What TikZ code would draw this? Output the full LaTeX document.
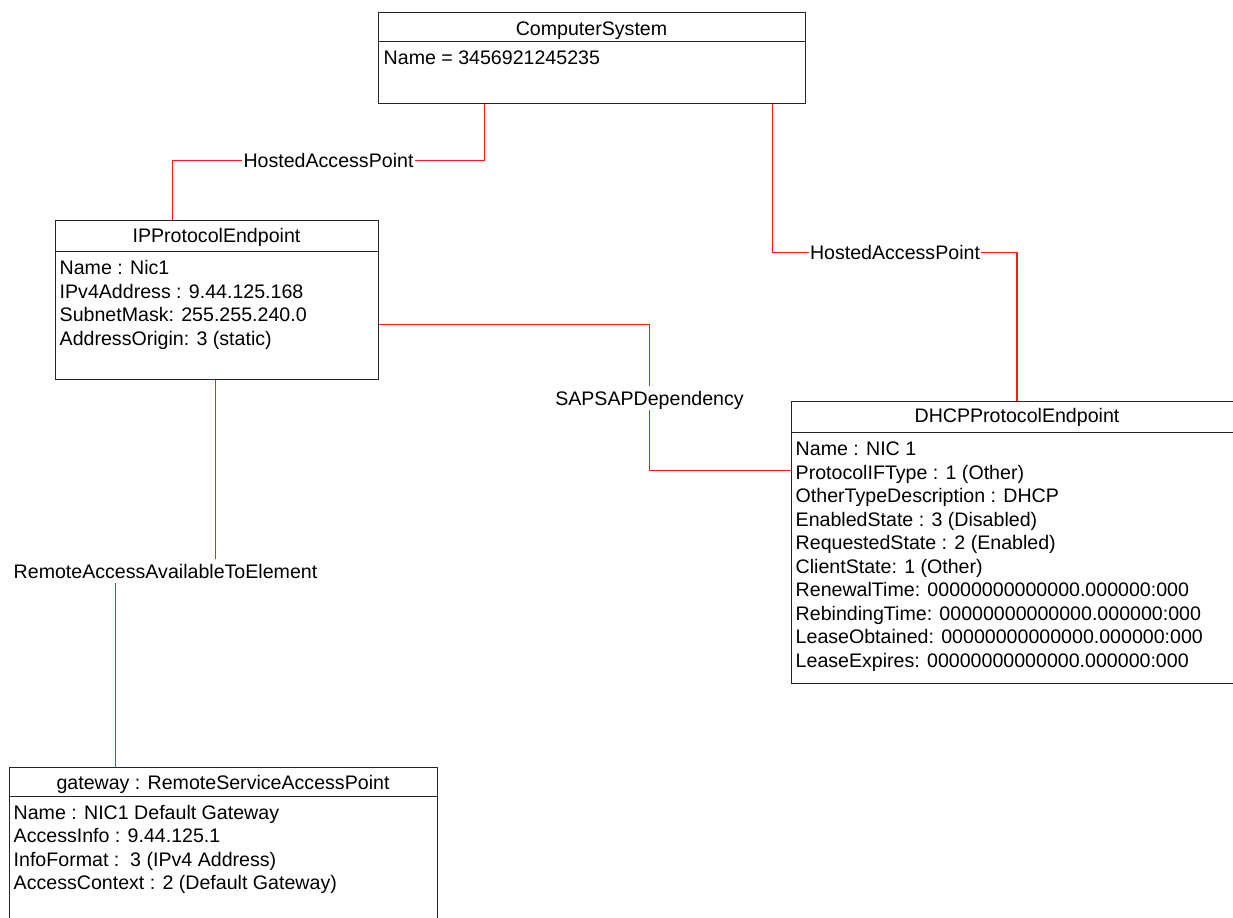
\documentclass[tikz,border=0pt]{standalone}
\usepackage{fontspec}
\setmainfont{Liberation Sans}
\usetikzlibrary{calc}
\begin{document}
\begin{tikzpicture}[x=1bp,y=-1bp,
  every node/.style={font=\fontsize{19.6bp}{23.5bp}\selectfont},
  classbox/.style={draw=black!85, line width=1bp, anchor=north west, inner sep=0pt},
  divider/.style={draw=black!85, line width=1bp},
  classtitle/.style={anchor=base, inner sep=0pt},
  % multi-line attribute lists are placed by the baseline of their last line
  attrs/.style={anchor=base west, inner sep=0pt, align=left},
  assoc/.style={draw=red!90!white, line width=1.3bp},
  rolelabel/.style={inner xsep=1bp, inner ysep=5bp, text depth=0pt}
  ]
\useasboundingbox (0,0) rectangle (1233,918);

% ---- class instances ----
\node[classbox, minimum width=427bp, minimum height=91bp] (cs) at (377.5,11.5) {};
\draw[divider] ($(cs.north west)+(0,30)$) -- ($(cs.north east)+(0,30)$);
\node[classtitle] (cstitle) at ($(cs.north)+(0,24)$) {ComputerSystem};
\node[attrs] (csattr) at ($(cs.north west)+(6,53)$) {Name = 3456921245235};

\node[classbox, minimum width=323bp, minimum height=159bp] (ip) at (54.5,219.5) {};
\draw[divider] ($(ip.north west)+(0,32)$) -- ($(ip.north east)+(0,32)$);
\node[classtitle] (iptitle) at ($(ip.north)+(0,23)$) {IPProtocolEndpoint};
\node[attrs] (ipattr) at ($(ip.north west)+(5,125.5)$) {Name : Nic1\\
IPv4Address : 9.44.125.168\\
SubnetMask: 255.255.240.0\\
AddressOrigin: 3 (static)};

\node[classbox, minimum width=452bp, minimum height=282bp] (dhcp) at (790.5,400.5) {};
\draw[divider] ($(dhcp.north west)+(0,32)$) -- ($(dhcp.north east)+(0,32)$);
\node[classtitle] (dhcptitle) at ($(dhcp.north)+(0,22)$) {DHCPProtocolEndpoint};
\node[attrs] (dhcpattr) at ($(dhcp.north west)+(5,266.5)$) {Name : NIC 1\\
ProtocolIFType : 1 (Other)\\
OtherTypeDescription : DHCP\\
EnabledState : 3 (Disabled)\\
RequestedState : 2 (Enabled)\\
ClientState: 1 (Other)\\
RenewalTime: 00000000000000.000000:000\\
RebindingTime: 00000000000000.000000:000\\
LeaseObtained: 00000000000000.000000:000\\
LeaseExpires: 00000000000000.000000:000};

\node[classbox, minimum width=428bp, minimum height=180bp] (gw) at (8.5,766.5) {};
\draw[divider] ($(gw.north west)+(0,30)$) -- ($(gw.north east)+(0,30)$);
\node[classtitle] (gwtitle) at ($(gw.north)+(0,23)$) {gateway : RemoteServiceAccessPoint};
\node[attrs] (gwattr) at ($(gw.north west)+(5,123)$) {Name : NIC1 Default Gateway\\
AccessInfo : 9.44.125.1\\
InfoFormat :\ \ 3 (IPv4 Address)\\
AccessContext : 2 (Default Gateway)};

% ---- association labels ----
\node[rolelabel] (hap1) at (328.5,160.5) {HostedAccessPoint};
\node[rolelabel] (hap2) at (895,252.5) {HostedAccessPoint};
\node[rolelabel] (dep) at (649.5,398) {SAPSAPDependency};
\node[rolelabel] (rae) at (165.5,571) {RemoteAccessAvailableToElement};

% ---- connector end points on the boxes ----
\coordinate (csl) at ($(cs.south west)+(107,0)$);
\coordinate (csr) at ($(cs.south west)+(395,0)$);
\coordinate (ipt) at ($(ip.north west)+(118,0)$);
\coordinate (ipr) at ($(ip.north east)+(0,105)$);
\coordinate (ipb) at ($(ip.south west)+(161,0)$);
\coordinate (dhcpl) at ($(dhcp.north west)+(0,70)$);
\coordinate (gwt) at ($(gw.north west)+(107,0)$);

% ---- associations ----
\draw[assoc] (csl) |- (hap1.east);
\draw[assoc] (hap1.west) -| (ipt);
\draw[assoc] (csr) |- (hap2.west);
\draw[assoc] (hap2.east) -| (dhcp.north);
\draw[assoc] (ipr) -| (dep.north);
\draw[assoc] (dep.south) |- (dhcpl);
\draw[assoc] (ipb) -- (ipb |- rae.north);
\draw[assoc] (gwt |- rae.south) -- (gwt);
\end{tikzpicture}
\end{document}
